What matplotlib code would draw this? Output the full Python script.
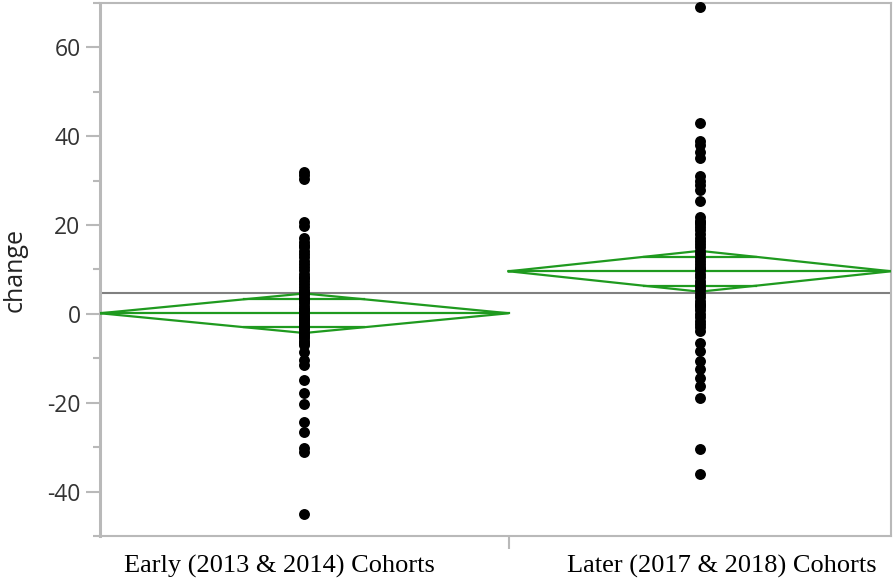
import numpy as np
import matplotlib
matplotlib.use("Agg")
import matplotlib.pyplot as plt

plt.rcParams["axes.unicode_minus"] = False

categories = ["Early (2013 & 2014) Cohorts", "Later (2017 & 2018) Cohorts"]

early_change = [32.0, 31.2, 30.3, 20.8, 19.7,
                17.0, 16.3, 15.6, 15.0, 14.2, 13.5, 12.8, 12.0, 11.3, 10.5,
                9.8, 9.0, 8.3, 8.0, 7.5, 6.8, 6.0, 5.4, 5.0, 4.8, 4.2, 3.6, 3.3,
                3.0, 2.4, 1.8, 1.2, 1.0, 0.6, 0.0, -0.5, -1.0, -1.2, -1.5, -2.0,
                -2.5, -3.0, -3.2, -3.5, -4.0, -4.5, -5.0, -5.5, -6.0, -6.5, -7.0,
                -8.5, -10.3, -11.5, -14.8, -17.8, -20.2, -24.3, -26.5, -30.2, -31.2, -45.0]

later_change = [69.0, 43.0, 39.0, 38.0, 36.5, 35.0, 31.0, 30.0, 29.0, 28.0, 25.5,
                21.8, 21.0, 20.8, 20.3, 19.5, 18.8, 18.0, 17.2, 16.5, 15.7, 15.0,
                14.2, 13.5, 12.7, 12.0, 11.2, 10.5, 10.0, 9.8, 9.0, 8.3, 7.5, 6.8,
                6.0, 5.3, 4.5, 3.8, 3.0, 2.3, 2.0, 1.5, 0.8, 0.0, -0.8, -1.5, -2.3,
                -3.0, -3.8, -6.5, -8.3, -10.6, -12.4, -14.4, -16.2, -18.9, -30.5, -36.1]

group_means = [0.15, 9.6]
ci_half = [4.45, 4.6]
grand_mean = 4.6

groups = [early_change, later_change]

W, H = 896, 580
fig = plt.figure(figsize=(W / 100, H / 100), dpi=100)
ax = fig.add_axes([100 / W, (580 - 536) / H, (891 - 100) / W, (536 - 3) / H])

green = "#1f9a1f"
axcol = "#b9b9b9"

counts = [len(g) for g in groups]
edges = np.concatenate([[0], np.cumsum(counts)])
centers = (edges[:-1] + edges[1:]) / 2

# grand mean line
ax.axhline(grand_mean, color="#808080", lw=1.5, zorder=2)

f = 1 / np.sqrt(2)
for i in range(2):
    x0, x1, xc = edges[i], edges[i + 1], centers[i]
    m, h = group_means[i], ci_half[i]
    ax.plot([x0, xc, x1, xc, x0], [m, m + h, m, m - h, m], color=green, lw=1.6, zorder=3,
            solid_joinstyle="miter")
    ax.plot([x0, x1], [m, m], color=green, lw=1.6, zorder=3)
    xl = xc - (1 - f) * (xc - x0)
    xr = xc + (1 - f) * (x1 - xc)
    for s in (1, -1):
        ax.plot([xl, xr], [m + s * h * f, m + s * h * f], color=green, lw=1.6, zorder=3)

for i, g in enumerate(groups):
    ax.scatter(np.full(len(g), centers[i]), g, s=62, color="black", zorder=4,
               linewidths=0, clip_on=False)

ax.set_xlim(edges[0], edges[-1])
ax.set_ylim(-50, 70)

ax.set_yticks([-40, -20, 0, 20, 40, 60])
ax.set_yticks(np.arange(-50, 71, 20), minor=True)
ax.set_xticks([])
ax.set_xticks([edges[1]], minor=True)

# category labels (JMP places them slightly off the group centres)
label_pos = [0.2265, 0.7865]
for lab, xp in zip(categories, label_pos):
    ax.text(xp, -0.0565, lab, transform=ax.transAxes, ha="center", va="center",
            fontfamily="Liberation Serif", fontsize=19, color="black")

ax.tick_params(axis="y", which="major", length=10, width=1.5, color=axcol, pad=4,
               labelsize=16.5, labelcolor="#333333")
ax.tick_params(axis="y", which="minor", length=5, width=1.5, color=axcol)
ax.tick_params(axis="x", which="minor", length=9, width=1.5, color=axcol)
for lab in ax.get_yticklabels():
    lab.set_fontfamily("Open Sans")

for side in ["left", "bottom", "top", "right"]:
    ax.spines[side].set_color(axcol)
    ax.spines[side].set_linewidth(1.5)
ax.spines["left"].set_linewidth(2.2)

ax.set_ylabel("change", fontfamily="Open Sans", fontsize=18, color="#222222", labelpad=14)

fig.savefig("out.png", dpi=100)
